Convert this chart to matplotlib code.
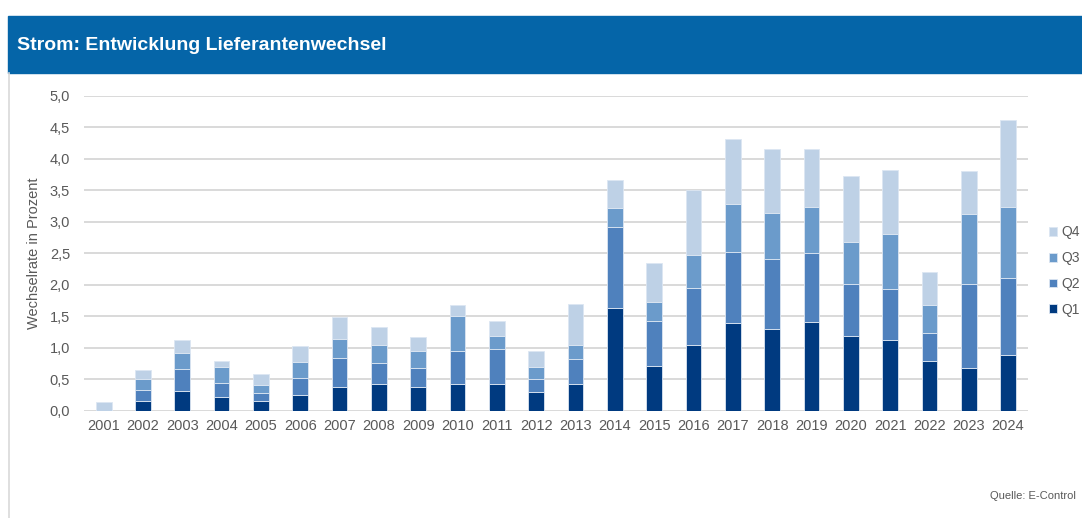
import matplotlib
matplotlib.use("Agg")
import matplotlib.pyplot as plt
import numpy as np
from matplotlib.patches import Rectangle
from matplotlib.lines import Line2D

plt.rcParams['font.family'] = ['Liberation Sans', 'DejaVu Sans']

years = [str(y) for y in range(2001, 2025)]
# switching rate per quarter, in percent
q1 = [0.00, 0.15, 0.32, 0.21, 0.15, 0.25, 0.37, 0.42, 0.37, 0.43, 0.43, 0.30,
      0.42, 1.63, 0.71, 1.05, 1.40, 1.29, 1.41, 1.18, 1.12, 0.79, 0.68, 0.88]
q2 = [0.00, 0.18, 0.34, 0.23, 0.13, 0.27, 0.46, 0.34, 0.31, 0.52, 0.55, 0.21,
      0.40, 1.28, 0.72, 0.90, 1.12, 1.12, 1.10, 0.83, 0.81, 0.45, 1.33, 1.22]
q3 = [0.00, 0.18, 0.25, 0.26, 0.13, 0.25, 0.31, 0.29, 0.27, 0.56, 0.21, 0.19,
      0.22, 0.31, 0.30, 0.52, 0.76, 0.73, 0.73, 0.66, 0.87, 0.44, 1.11, 1.13]
q4 = [0.14, 0.14, 0.21, 0.09, 0.17, 0.25, 0.35, 0.28, 0.22, 0.17, 0.24, 0.25,
      0.66, 0.44, 0.61, 1.04, 1.04, 1.01, 0.92, 1.05, 1.02, 0.52, 0.68, 1.38]
yticks = [0.0, 0.5, 1.0, 1.5, 2.0, 2.5, 3.0, 3.5, 4.0, 4.5, 5.0]

colors = {'Q1': '#003A80', 'Q2': '#4F81BD', 'Q3': '#6B9BCB', 'Q4': '#BED1E6'}
grey = '#595959'

fig = plt.figure(figsize=(10.82, 5.18), dpi=100)

# header banner
fig.patches.append(Rectangle((8 / 1082, 1 - 73 / 518), 1.0, 57 / 518,
                             transform=fig.transFigure, color='#0565A8', zorder=0))
fig.text(17 / 1082, 1 - 45 / 518, 'Strom: Entwicklung Lieferantenwechsel',
         color='white', fontsize=14.0, fontweight='bold', va='center', ha='left')
# left frame line
fig.add_artist(Line2D([8.5 / 1082, 8.5 / 1082], [0, 1 - 73 / 518],
                      transform=fig.transFigure, color='#D9D9D9', lw=1.2))

ax = fig.add_axes([84 / 1082, 107.3 / 518, (1027.7 - 84) / 1082, (410.7 - 95.7) / 518])

x = np.arange(len(years))
w = 0.4
bottom = np.zeros(len(years))
bars = {}
for name, vals in [('Q1', q1), ('Q2', q2), ('Q3', q3), ('Q4', q4)]:
    vals = np.array(vals)
    bars[name] = ax.bar(x, vals, w, bottom=bottom, color=colors[name],
                        edgecolor='#DCE6F2', linewidth=0.6, zorder=3)
    bottom = bottom + vals

ax.set_xlim(-0.5, len(years) - 0.5)
ax.set_ylim(0, 5)
ax.set_yticks(yticks)
ax.set_yticklabels([f'{v:.1f}'.replace('.', ',') for v in yticks])
ax.set_xticks(x)
ax.set_xticklabels(years)
ax.tick_params(axis='both', length=0, colors=grey, labelsize=10.5)
ax.tick_params(axis='y', pad=10)
ax.tick_params(axis='x', pad=6)
ax.grid(axis='y', color='#D9D9D9', linewidth=1.4, zorder=0)
for s in ax.spines.values():
    s.set_visible(False)
ax.set_ylabel('Wechselrate in Prozent', color=grey, fontsize=10.5, labelpad=6)

handles = [bars[k] for k in ['Q4', 'Q3', 'Q2', 'Q1']]
fig.legend(handles, ['Q4', 'Q3', 'Q2', 'Q1'], loc='center left',
           bbox_to_anchor=(1036 / 1082, 1 - 271 / 518), frameon=False,
           fontsize=10, labelcolor=grey, handlelength=0.6, handleheight=0.6,
           handletextpad=0.3, labelspacing=0.85)

fig.text(1076 / 1082, 1 - 496 / 518, 'Quelle: E-Control', color=grey,
         fontsize=8, va='center', ha='right')

fig.savefig('out.png', dpi=100)
